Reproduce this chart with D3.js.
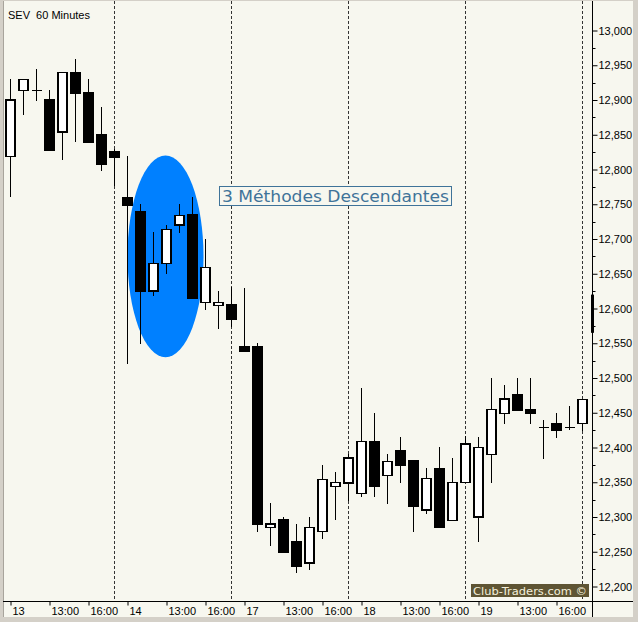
<!DOCTYPE html>
<html><head><meta charset="utf-8">
<script src="https://cdn.jsdelivr.net/npm/d3@7"></script>
<style>
html,body{margin:0;padding:0;background:#D4D0C8;}
svg{display:block;}
</style></head>
<body>
<script>
// ---- data ----
const openP  = [12819,12914,12914,12900,12854,12940,12910,12850,12825,12760,12740,12625,12665,12720,12735,12609,12604,12605,12545,12545,12285,12296,12265,12234,12279,12344,12349,12334,12409,12360,12395,12381,12310,12370,12295,12350,12300,12390,12449,12476,12455,12429,12435,12429,12435];
const highP  = [12930,12930,12945,12914,12940,12959,12930,12890,12830,12820,12750,12710,12720,12750,12760,12700,12625,12631,12630,12551,12320,12300,12290,12300,12375,12365,12391,12486,12450,12391,12415,12381,12370,12401,12385,12416,12415,12500,12490,12500,12500,12439,12450,12460,12469];
const lowP   = [12760,12878,12899,12828,12814,12839,12839,12798,12776,12520,12549,12618,12649,12709,12614,12598,12570,12574,12539,12279,12258,12249,12220,12224,12269,12295,12323,12329,12329,12319,12349,12278,12305,12285,12295,12350,12264,12349,12434,12454,12434,12383,12414,12425,12424];
const closeP = [12900,12930,12914,12828,12940,12909,12839,12808,12818,12749,12624,12665,12714,12734,12614,12659,12609,12584,12539,12289,12290,12249,12229,12285,12354,12350,12385,12409,12344,12380,12374,12315,12355,12285,12350,12405,12400,12455,12470,12454,12449,12429,12425,12429,12469];
const timeTickIdx = [0,3,6,9,12,15,18,21,24,27,30,33,36,39,42];
const timeTickLbl = ["13","13:00","16:00","14","13:00","16:00","17","13:00","16:00","18","13:00","16:00","19","13:00","16:00"];
const daySepIdx = [8,17,26,35,44];
const priceTicks = d3.range(12200, 13001, 50);
const minorTicks = d3.range(12225, 13000, 50);
const title = "SEV  60 Minutes";
const annotation = "3 Méthodes Descendantes";
const watermark = "Club-Traders.com ©";
// highlighted pattern: candle index range and price span of the ellipse
const patternFrom = 10, patternTo = 14;
const patternTop = 12820, patternBottom = 12530;
// price range marked on the axis
const markTop = 12620, markBottom = 12565;

const W = 638, H = 622;
const svg = d3.select("body").append("svg").attr("width", W).attr("height", H);

// frame
svg.append("rect").attr("x",0).attr("y",0).attr("width",W).attr("height",H).attr("fill","#D4D0C8");
svg.append("rect").attr("x",3).attr("y",1).attr("width",630).attr("height",616).attr("fill","#F7F7EF");
svg.append("line").attr("x1",3.5).attr("x2",3.5).attr("y1",1).attr("y2",617).attr("stroke","#A8A49C");

const x = d3.scaleLinear().domain([0,44]).range([10,582]);
const y = d3.scaleLinear().domain([12200,13000]).range([586.5,30.5]);

const data = openP.map((o,i)=>({i,o,h:highP[i],l:lowP[i],c:closeP[i]}));

// day separators
svg.append("g").selectAll("line").data(daySepIdx).join("line")
  .attr("x1",d=>x(d)+0.5).attr("x2",d=>x(d)+0.5).attr("y1",1).attr("y2",601)
  .attr("stroke","#333").attr("stroke-dasharray","3,2").attr("shape-rendering","crispEdges");

// ellipse highlight
const exL = x(patternFrom)-12.5, exR = x(patternTo)+11.5;
svg.append("ellipse")
  .attr("cx",(exL+exR)/2).attr("cy",(y(patternTop)+y(patternBottom))/2)
  .attr("rx",(exR-exL)/2).attr("ry",(y(patternBottom)-y(patternTop))/2)
  .attr("fill","#0080FF");

// candles
const g = svg.append("g").attr("shape-rendering","crispEdges");
g.selectAll("line.w").data(data).join("line").attr("class","w")
  .attr("x1",d=>x(d.i)+0.5).attr("x2",d=>x(d.i)+0.5)
  .attr("y1",d=>y(d.h)).attr("y2",d=>y(d.l)).attr("stroke","#000");
g.selectAll("rect.b").data(data.filter(d=>d.o!==d.c)).join("rect").attr("class","b")
  .attr("x",d=>x(d.i)-4).attr("width",9)
  .attr("y",d=>y(Math.max(d.o,d.c))).attr("height",d=>Math.max(1,Math.abs(y(d.o)-y(d.c))))
  .attr("fill",d=>d.c>d.o?"#FFFFFF":"#000000").attr("stroke","#000").attr("stroke-width",1.3);
g.selectAll("line.dj").data(data.filter(d=>d.o===d.c)).join("line").attr("class","dj")
  .attr("x1",d=>x(d.i)-4.5).attr("x2",d=>x(d.i)+5.5)
  .attr("y1",d=>y(d.o)).attr("y2",d=>y(d.o)).attr("stroke","#000").attr("stroke-width",1.3);

// right axis
const ay = svg.append("g").attr("transform","translate(592.5,0)");
ay.call(d3.axisRight(y).tickValues(priceTicks).tickSize(5).tickPadding(1).tickFormat(d3.format(",")));
ay.select(".domain").remove();
ay.selectAll("text").attr("font-family","Liberation Sans, Arial, sans-serif").attr("font-size","11px").attr("fill","#000");
ay.selectAll("line").attr("stroke","#000");
ay.append("g").selectAll("line").data(minorTicks).join("line")
  .attr("x1",0).attr("x2",3).attr("y1",d=>Math.round(y(d))+0.5).attr("y2",d=>Math.round(y(d))+0.5).attr("stroke","#000");
svg.append("line").attr("x1",592.5).attr("x2",592.5).attr("y1",1).attr("y2",617).attr("stroke","#000");
// marker on axis
svg.append("line").attr("x1",592.5).attr("x2",592.5).attr("y1",y(markTop)).attr("y2",y(markBottom)).attr("stroke","#000").attr("stroke-width",3);

// bottom axis
const ax = svg.append("g").attr("transform","translate(0,601.5)");
ax.call(d3.axisBottom(x).tickValues(timeTickIdx).tickSize(4).tickFormat((d,k)=>timeTickLbl[k]));
ax.select(".domain").remove();
ax.selectAll(".tick line").attr("stroke","#000").attr("transform","translate(0.5,0)");
ax.selectAll("text").attr("text-anchor","start").attr("dx","2").attr("dy","0.55em")
  .attr("font-family","Liberation Sans, Arial, sans-serif").attr("font-size","11px").attr("fill","#000");
svg.append("line").attr("x1",3).attr("x2",633).attr("y1",601.5).attr("y2",601.5).attr("stroke","#000");

// title
svg.append("text").attr("x",8).attr("y",18.5).attr("xml:space","preserve").style("white-space","pre")
  .attr("font-family","Liberation Sans, Arial, sans-serif").attr("font-size","11px").attr("fill","#000").text(title);

// annotation
svg.append("rect").attr("x",219.5).attr("y",186.5).attr("width",232).attr("height",19)
  .attr("fill","#F7F7EF").attr("stroke","#3F7399").attr("stroke-width",1);
svg.append("text").attr("x",222).attr("y",202).attr("font-family","DejaVu Sans, Verdana, sans-serif")
  .attr("font-size","16px").attr("fill","#3F7399").attr("textLength",227).attr("lengthAdjust","spacingAndGlyphs").text(annotation);

// watermark
svg.append("rect").attr("x",471).attr("y",584).attr("width",118).attr("height",13).attr("fill","#5E5433");
svg.append("text").attr("x",473).attr("y",595).attr("font-family","DejaVu Sans, Verdana, sans-serif")
  .attr("font-size","11px").attr("fill","#F4F0DC").attr("textLength",114).attr("lengthAdjust","spacingAndGlyphs").text(watermark);
</script>
</body></html>
